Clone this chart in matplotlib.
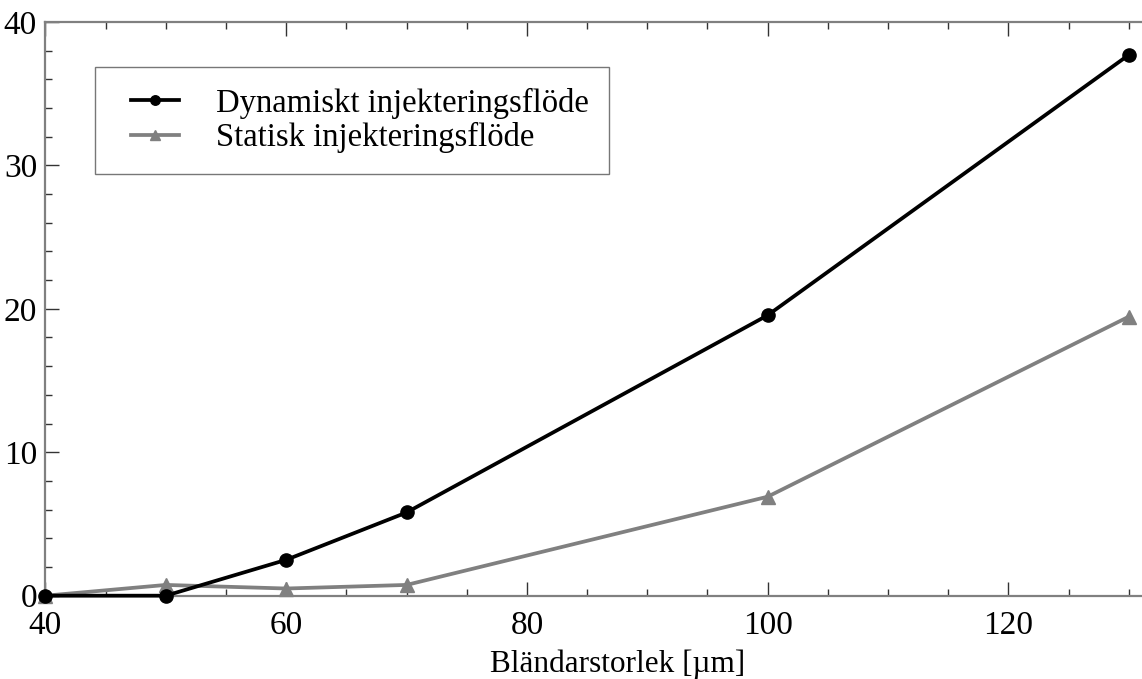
import numpy as np
import matplotlib
matplotlib.use("Agg")
import matplotlib.pyplot as plt
from matplotlib.ticker import MultipleLocator
from matplotlib.legend_handler import HandlerLine2D

plt.rcParams['font.family'] = ['Liberation Serif', 'DejaVu Serif']

# aperture size [um] and measured injection flow
aperture = [40, 50, 60, 70, 100, 130]
dynamic_flow = [0.0, 0.0, 2.5, 5.8, 19.55, 37.7]
static_flow = [0.0, 0.75, 0.5, 0.75, 6.9, 19.45]

fig = plt.figure(figsize=(11.42, 6.79), dpi=100)
ax = fig.add_axes([0.0398, 0.1227, 1.0013, 0.845])

l1, = ax.plot(aperture, dynamic_flow, color='black', lw=2.7, marker='o', ms=9.5,
              label='Dynamiskt injekteringsflöde', clip_on=False, zorder=3)
l2, = ax.plot(aperture, static_flow, color='#808080', lw=2.7, marker='^', ms=10.5,
              label='Statisk injekteringsflöde', clip_on=False, zorder=2)

ax.set_xlim(40, 135)
ax.set_ylim(0, 40)
ax.xaxis.set_major_locator(MultipleLocator(20))
ax.xaxis.set_minor_locator(MultipleLocator(5))
ax.yaxis.set_major_locator(MultipleLocator(10))
ax.yaxis.set_minor_locator(MultipleLocator(2))

ax.tick_params(which='both', direction='in', top=True, right=True,
               color='#333333', labelsize=24)
ax.tick_params(which='major', length=10, width=1.0)
ax.tick_params(which='minor', length=5, width=1.0)
ax.tick_params(axis='x', which='major', pad=11)
ax.tick_params(axis='y', which='major', pad=6)
for sp in ax.spines.values():
    sp.set_color('#808080')
    sp.set_linewidth(1.6)

ax.set_xlabel('Bländarstorlek [µm]', fontsize=22.5, labelpad=6)

# shift the legend handles a bit to the right inside the frame
hmap = {l1: HandlerLine2D(xpad=0.46), l2: HandlerLine2D(xpad=0.46)}
leg = ax.legend(loc='upper left', bbox_to_anchor=(0.0433, 0.9216), fontsize=23.5,
                fancybox=False, frameon=True, borderpad=0.64, handlelength=1.93,
                handletextpad=1.13, labelspacing=0.1, borderaxespad=0,
                markerscale=0.72, handler_map=hmap)
leg.get_frame().set_edgecolor('#555555')
leg.get_frame().set_linewidth(1.0)

fig.savefig('out.png', dpi=100)
